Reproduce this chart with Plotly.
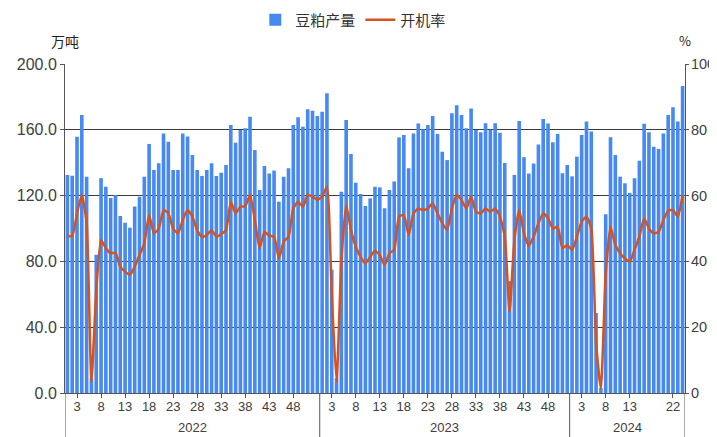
import plotly.graph_objects as go

# ---- data ----
years = ["2022", "2023", "2024"]
weeks_per_year = [53, 52, 24]
week_ticks = {
    "2022": [3, 8, 13, 18, 23, 28, 33, 38, 43, 48],
    "2023": [3, 8, 13, 18, 23, 28, 33, 38, 43, 48],
    "2024": [3, 8, 13, 22],
}

# 豆粕产量 (万吨)
output_2022 = [132.5, 132, 155.8, 169, 131.5, 9, 84, 130.6, 125.4, 118.5,
               120.4, 107.6, 103.5, 100.5, 113.3, 119.3, 131.5, 151.4, 135.6, 139.6,
               157.8, 152.8, 135.6, 135.6, 157.8, 156, 144.7, 135.6, 131.9, 135.6,
               139.6, 131.9, 133.9, 138.6, 162.9, 152.2, 159.9, 160.9, 168, 147.7,
               123.4, 138, 133.5, 135.2, 116.3, 131.5, 136.6, 162.9, 167.6, 161.9,
               172.5, 171.6, 168.4]
output_2023 = [171, 182.2, 75, 9, 122.4, 166, 145.3, 127.8, 121, 113.7,
               118.3, 125.4, 125, 112.3, 123.4, 128.5, 155.4, 156.8, 136.6, 157.8,
               163.9, 160.3, 162.9, 168.4, 157.4, 146.7, 141.6, 170, 175, 169,
               160.9, 173, 159.9, 158.5, 164, 160, 164, 158.2, 139.8, 68,
               132.5, 165.3, 143.4, 133.4, 139.5, 151, 166.5, 163.8, 152.4, 157.4,
               133.6, 138.6]
output_2024 = [131.7, 143.7, 156.8, 165, 158.9, 48.6, 3, 108.6, 155.4, 144.7,
               131.5, 127.5, 121.6, 130.5, 141.2, 163.7, 158.5, 149.7, 148.4, 157.8,
               169, 173.7, 165, 186.6]

# 开机率 (%)
rate_2022 = [47.7, 47.7, 54.6, 60.2, 51.7, 3.4, 31, 46.5, 44, 42.5,
             42.6, 38.4, 36.9, 35.9, 38.4, 41.9, 45.5, 54.1, 48.5, 50,
             55.6, 54.6, 50, 48.5, 52.6, 55.6, 53.6, 49.5, 47.5, 48,
             49.5, 47.5, 48.3, 49.5, 58.1, 54.6, 56.6, 56.8, 60.2, 52.6,
             44, 49, 47.8, 47.5, 40.9, 46, 47.5, 56.1, 58.1, 56.6,
             60.2, 59.7, 58.7]
rate_2023 = [59.7, 62.7, 30, 3.4, 40, 57.1, 49.5, 44.5, 41.4, 39.4,
             41.4, 43.2, 41.9, 38.9, 42.5, 43.5, 53.6, 54.1, 48, 54.6,
             56.1, 55.6, 56.1, 57.7, 54.6, 51.6, 49.5, 56.1, 60.2, 58.7,
             56.1, 59.7, 55.1, 54.6, 56.1, 55.1, 56.1, 53.6, 47.5, 24.7,
             46.5, 55.6, 48.5, 44.7, 47.5, 51.6, 54.6, 53.1, 50, 50.5,
             44, 45]
rate_2024 = [43.5, 47.5, 52.1, 53.6, 50, 15.1, 1.4, 36, 50.5, 45,
             42.5, 40.9, 39.9, 43.5, 47.5, 53.1, 50, 48.5, 49, 52.6,
             55.4, 55.6, 53.6, 60.2]

# ---- build ----
output = output_2022 + output_2023 + output_2024
rate = rate_2022 + rate_2023 + rate_2024
idx = list(range(len(output)))

tickvals, ticktext, bounds, centers = [], [], [-0.5], []
start = 0
for y, n in zip(years, weeks_per_year):
    for w in week_ticks[y]:
        tickvals.append(start + w - 1)
        ticktext.append(str(w))
    centers.append(start + (n - 1) / 2)
    start += n
    bounds.append(start - 0.5)

BLUE = "#4689F2"
ORANGE = "#D4531F"
GRID = "#3a3a3a"
TXT = "#404040"
FONT = "Liberation Sans, Arial, sans-serif"
CJK = "Noto Sans CJK SC"

fig = go.Figure()
fig.add_trace(go.Bar(x=idx, y=output, name="豆粕产量", marker_color=BLUE,
                     marker_line_width=0))
fig.add_trace(go.Scatter(x=idx, y=rate, name="开机率", yaxis="y2", mode="lines",
                         line=dict(color=ORANGE, width=2.5, shape="spline", smoothing=0.5)))

shapes = []
for b in bounds:
    shapes.append(dict(type="line", xref="x", yref="paper", x0=b, x1=b, y0=0, y1=-0.14,
                       line=dict(color="#555555", width=1)))

annotations = []
for y, c in zip(years, centers):
    annotations.append(dict(text=y, x=c, xref="x", y=-0.106, yref="paper", showarrow=False,
                            font=dict(size=13, color=TXT, family=FONT), yanchor="middle"))
annotations.append(dict(text="万吨", x=0.0, xref="paper", y=1.07, yref="paper",
                        showarrow=False, xanchor="center", yanchor="middle",
                        font=dict(size=14, color="#222222", family=CJK)))
annotations.append(dict(text="%", x=1.0, xref="paper", y=1.07, yref="paper",
                        showarrow=False, xanchor="center", yanchor="middle",
                        font=dict(size=13, color="#222222", family=CJK)))

# page body has an 8px margin: shrink the figure so the plot lands where the reference has it
fig.update_layout(
    width=709, height=429,
    margin=dict(l=57, r=32, t=56, b=44, autoexpand=False),
    paper_bgcolor="white", plot_bgcolor="white",
    bargap=0.25,
    showlegend=True,
    legend=dict(orientation="h", x=0.487, xref="container", xanchor="center",
                y=0.972, yref="container", yanchor="middle",
                font=dict(size=15, color="#333333", family=CJK),
                traceorder="normal"),
    xaxis=dict(range=[-0.5, len(idx) - 0.5], tickmode="array", tickvals=tickvals,
               ticktext=ticktext, ticks="outside", ticklen=4, tickcolor="#555555",
               showline=True, linecolor="#555555", linewidth=1, showgrid=False,
               tickfont=dict(size=13, color=TXT, family=FONT), zeroline=False,
               automargin=False, ticklabelstandoff=-3),
    yaxis=dict(range=[0, 200], dtick=40, tickformat=".1f", showgrid=True,
               gridcolor=GRID, gridwidth=1, showline=True, linecolor="#555555",
               ticks="outside", ticklen=4, tickcolor="#555555", zeroline=False,
               tickfont=dict(size=16, color=TXT, family=FONT), automargin=False),
    yaxis2=dict(range=[0, 100], dtick=20, overlaying="y", side="right", showgrid=False,
                showline=True, linecolor="#555555", ticks="outside", ticklen=3,
                tickcolor="#555555", zeroline=False, automargin=False,
                ticklabelstandoff=-1,
                tickfont=dict(size=14.5, color=TXT, family=FONT)),
    shapes=shapes, annotations=annotations,
)

fig.write_html("out.html")
